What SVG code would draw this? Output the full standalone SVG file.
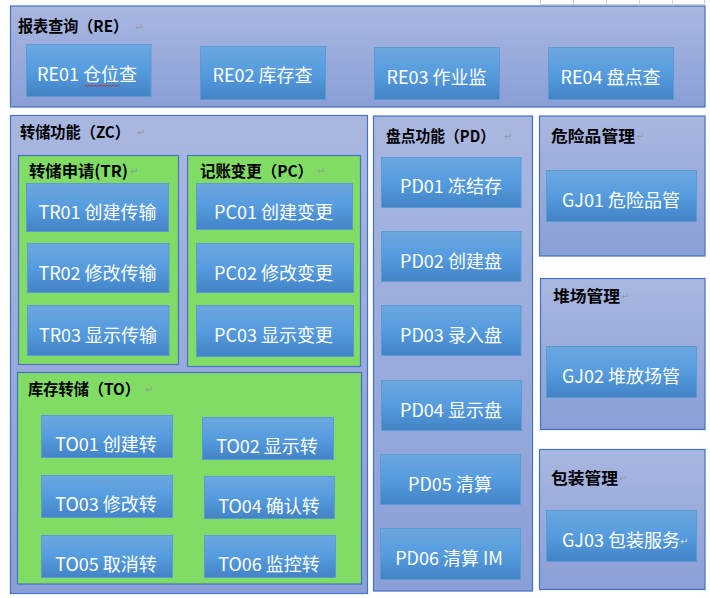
<svg xmlns="http://www.w3.org/2000/svg" width="710" height="598" viewBox="0 0 710 598">
<defs>
<linearGradient id="gc" x1="0" y1="0" x2="0" y2="1">
<stop offset="0" stop-color="#A9B7E0"/>
<stop offset="1" stop-color="#8A9FD7"/>
</linearGradient>
<linearGradient id="gb" x1="0" y1="0" x2="0" y2="1">
<stop offset="0" stop-color="#6DA7DF"/>
<stop offset="0.5" stop-color="#559CDF"/>
<stop offset="1" stop-color="#4283C5"/>
</linearGradient>
<style>
.c{fill:url(#gc);stroke:#4472C4;stroke-width:1.2}
.g{fill:#80DC64;stroke:#4472C4;stroke-width:1.2}
.b{fill:url(#gb);stroke:#5B9BD5;stroke-width:1}
.t{font-family:"Noto Sans CJK SC","Liberation Sans",sans-serif;font-weight:700;font-size:16px;fill:#000}
.l{font-family:"Noto Sans CJK SC","Liberation Sans",sans-serif;font-size:18px;fill:#FFFFFF;text-anchor:middle}
.p{font-family:"DejaVu Sans",sans-serif;font-size:10px;fill:#9A9A9A}
.grid{stroke:#D2D2D2;stroke-width:1;fill:none}
</style>
</defs>
<rect width="710" height="598" fill="#FFFFFF"/>
<g id="sheet-grid" class="grid">
<path d="M540.5 0V4.5M573.5 0V4.5M606.5 0V4.5M639.5 0V4.5M672.5 0V4.5M704.5 0V4.5M540.5 4.5H705"/>
</g>
<g id="RE">
<rect class="c" x="10.5" y="6" width="694.5" height="101"/>
<text class="t" x="18" y="32" textLength="110" lengthAdjust="spacingAndGlyphs">报表查询（RE）</text>
<text class="p" x="135" y="31">↵</text>
</g>
<g id="ZC">
<rect class="c" x="10.5" y="115.5" width="357" height="478"/>
<text class="t" x="20" y="138" textLength="110" lengthAdjust="spacingAndGlyphs">转储功能（ZC）</text>
<text class="p" x="137" y="136">↵</text>
</g>
<g id="TR">
<rect class="g" x="18.5" y="155.5" width="160" height="209"/>
<text class="t" x="29" y="177" textLength="99" lengthAdjust="spacingAndGlyphs">转储申请(TR)</text>
<text class="p" x="130" y="175">↵</text>
</g>
<g id="PC">
<rect class="g" x="187.5" y="155.5" width="173" height="211"/>
<text class="t" x="200" y="177" textLength="113" lengthAdjust="spacingAndGlyphs">记账变更（PC）</text>
<text class="p" x="317" y="175">↵</text>
</g>
<g id="TO">
<rect class="g" x="17.5" y="372.5" width="344" height="211.5"/>
<text class="t" x="28" y="395" textLength="112" lengthAdjust="spacingAndGlyphs">库存转储（TO）</text>
<text class="p" x="145" y="393">↵</text>
</g>
<g id="PD">
<rect class="c" x="373.5" y="116" width="159" height="475"/>
<text class="t" x="386" y="142" textLength="109" lengthAdjust="spacingAndGlyphs">盘点功能（PD）</text>
<text class="p" x="504" y="140">↵</text>
</g>
<g id="GJ-danger">
<rect class="c" x="539.5" y="116" width="165.5" height="140"/>
<text class="t" x="551" y="142" textLength="84" lengthAdjust="spacingAndGlyphs">危险品管理</text>
<text class="p" x="636" y="140">↵</text>
</g>
<g id="GJ-yard">
<rect class="c" x="540.5" y="278.5" width="164.5" height="151"/>
<text class="t" x="553" y="302" textLength="67" lengthAdjust="spacingAndGlyphs">堆场管理</text>
<text class="p" x="621" y="300">↵</text>
</g>
<g id="GJ-pack">
<rect class="c" x="539.5" y="449.5" width="165.5" height="140"/>
<text class="t" x="551" y="484" textLength="67" lengthAdjust="spacingAndGlyphs">包装管理</text>
<text class="p" x="619" y="482">↵</text>
</g>
<g id="RE01"><rect class="b" x="26.5" y="44.5" width="124.5" height="52"/><text class="l" x="87" y="81">RE01 仓位查</text>
<path d="M84.5 86.5l1.5-1.5l1.5 1.5l1.5-1.5l1.5 1.5l1.5-1.5l1.5 1.5l1.5-1.5l1.5 1.5l1.5-1.5l1.5 1.5l1.5-1.5l1.5 1.5l1.5-1.5l1.5 1.5l1.5-1.5l1.5 1.5l1.5-1.5l1.5 1.5l1.5-1.5l1.5 1.5l1.5-1.5l1.5 1.5l1.5-1.5" fill="none" stroke="#E0201C" stroke-width="0.9"/></g>
<g id="RE02"><rect class="b" x="200.5" y="46.5" width="125" height="53"/><text class="l" x="262.5" y="82">RE02 库存查</text></g>
<g id="RE03"><rect class="b" x="374.5" y="47.5" width="125" height="52"/><text class="l" x="436.5" y="84">RE03 作业监</text></g>
<g id="RE04"><rect class="b" x="548.5" y="47.5" width="125" height="52"/><text class="l" x="610.5" y="84">RE04 盘点查</text></g>
<g id="TR01"><rect class="b" x="26.5" y="183.5" width="142" height="48"/><text class="l" x="97.5" y="219">TR01 创建传输</text></g>
<g id="TR02"><rect class="b" x="27.5" y="243.5" width="141.5" height="49"/><text class="l" x="97.5" y="280">TR02 修改传输</text></g>
<g id="TR03"><rect class="b" x="27.5" y="305.5" width="141.5" height="50"/><text class="l" x="98" y="341.5">TR03 显示传输</text></g>
<g id="PC01"><rect class="b" x="196.5" y="183.5" width="156" height="46"/><text class="l" x="273.5" y="219">PC01 创建变更</text></g>
<g id="PC02"><rect class="b" x="196.5" y="243.5" width="157" height="49"/><text class="l" x="273.5" y="280">PC02 修改变更</text></g>
<g id="PC03"><rect class="b" x="196.5" y="305.5" width="157" height="51"/><text class="l" x="273.5" y="341.5">PC03 显示变更</text></g>
<g id="TO01"><rect class="b" x="41.5" y="415.5" width="131" height="42"/><text class="l" x="106" y="451">TO01 创建转</text></g>
<g id="TO02"><rect class="b" x="202.5" y="417.5" width="131" height="42"/><text class="l" x="267" y="453">TO02 显示转</text></g>
<g id="TO03"><rect class="b" x="41.5" y="475.5" width="131" height="42"/><text class="l" x="106" y="511">TO03 修改转</text></g>
<g id="TO04"><rect class="b" x="204.5" y="476.5" width="130" height="42"/><text class="l" x="269" y="512.5">TO04 确认转</text></g>
<g id="TO05"><rect class="b" x="41.5" y="535.5" width="131" height="42"/><text class="l" x="106" y="571">TO05 取消转</text></g>
<g id="TO06"><rect class="b" x="204.5" y="535.5" width="131" height="42"/><text class="l" x="269" y="571">TO06 监控转</text></g>
<g id="PD01"><rect class="b" x="381.5" y="157.5" width="139.5" height="50"/><text class="l" x="451" y="193">PD01 冻结存</text></g>
<g id="PD02"><rect class="b" x="381.5" y="231.5" width="139.5" height="50"/><text class="l" x="451" y="267.5">PD02 创建盘</text></g>
<g id="PD03"><rect class="b" x="381.5" y="305.5" width="139.5" height="50"/><text class="l" x="451" y="341.5">PD03 录入盘</text></g>
<g id="PD04"><rect class="b" x="381.5" y="380.5" width="140" height="50"/><text class="l" x="451" y="417">PD04 显示盘</text></g>
<g id="PD05"><rect class="b" x="380.5" y="454.5" width="140" height="50"/><text class="l" x="450" y="491">PD05 清算</text></g>
<g id="PD06"><rect class="b" x="380.5" y="528.5" width="140" height="51"/><text class="l" x="449" y="565">PD06 清算 IM</text></g>
<g id="GJ01"><rect class="b" x="546.5" y="170.5" width="150" height="51"/><text class="l" x="621" y="207">GJ01 危险品管</text></g>
<g id="GJ02"><rect class="b" x="546.5" y="346.5" width="150" height="51"/><text class="l" x="621" y="383">GJ02 堆放场管</text></g>
<g id="GJ03"><rect class="b" x="546.5" y="510.5" width="150" height="51"/><text class="l" x="621" y="546.5">GJ03 包装服务</text><text class="p" x="680" y="545" style="fill:#C8D8F0">↵</text></g>
<g id="connectors"/>
</svg>
